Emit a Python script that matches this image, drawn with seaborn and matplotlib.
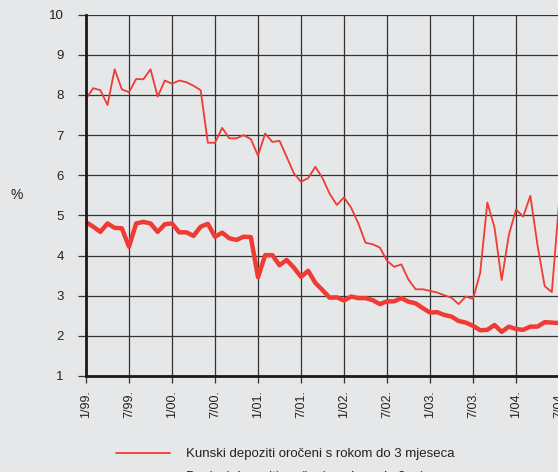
import numpy as np
import pandas as pd
import matplotlib
matplotlib.use("Agg")
import matplotlib.pyplot as plt
import seaborn as sns

# kamatne stope, mjesečno od 1/99.
kunski = [7.90, 8.17, 8.12, 7.75, 8.64, 8.14, 8.07, 8.40, 8.39, 8.64, 7.96, 8.36,
          8.28, 8.36, 8.32, 8.23, 8.12, 6.81, 6.81, 7.18, 6.92, 6.92, 7.00, 6.90,
          6.49, 7.04, 6.83, 6.86, 6.46, 6.05, 5.84, 5.93, 6.21, 5.93, 5.54, 5.26,
          5.45, 5.19, 4.80, 4.32, 4.28, 4.20, 3.87, 3.72, 3.78, 3.40, 3.16, 3.16,
          3.12, 3.08, 3.01, 2.95, 2.79, 2.98, 2.92, 3.57, 5.32, 4.70, 3.39, 4.51,
          5.15, 4.97, 5.49, 4.26, 3.24, 3.09, 5.30]
devizni = [4.83, 4.72, 4.59, 4.80, 4.69, 4.68, 4.22, 4.80, 4.84, 4.80, 4.59, 4.78,
           4.80, 4.58, 4.58, 4.49, 4.72, 4.79, 4.47, 4.57, 4.43, 4.39, 4.47, 4.46,
           3.46, 4.01, 4.01, 3.76, 3.89, 3.70, 3.47, 3.62, 3.32, 3.14, 2.95, 2.96,
           2.88, 2.98, 2.94, 2.94, 2.89, 2.79, 2.86, 2.86, 2.94, 2.85, 2.81, 2.69,
           2.58, 2.59, 2.52, 2.48, 2.37, 2.33, 2.25, 2.14, 2.15, 2.27, 2.10, 2.23,
           2.17, 2.15, 2.23, 2.23, 2.34, 2.33, 2.32]
tick_labels = ["1/99.", "7/99.", "1/00.", "7/00.", "1/01.", "7/01.", "1/02.",
               "7/02.", "1/03.", "7/03.", "1/04.", "7/04.", "1/05."]
label_kunski = "Kunski depoziti oročeni s rokom do 3 mjeseca"
label_devizni = "Devizni depoziti oročeni s rokom do 3 mjeseca"

bg = "#e6e7e9"
red = "#ef3b33"

sns.set_style("ticks")
plt.rcParams["font.family"] = ["Liberation Sans", "DejaVu Sans"]

df = pd.DataFrame({
    "mjesec": np.arange(len(kunski)),
    "kunski": kunski,
    "devizni": devizni,
})

W, H = 558, 472
fig = plt.figure(figsize=(W / 100, H / 100), dpi=100, facecolor=bg)
# os se nastavlja desno izvan slike (isječak)
px_month = 43 / 6
xmax = 72
ax = fig.add_axes([86 / W, 96 / H, xmax * px_month / W, 361.3 / H])
ax.set_facecolor(bg)

sns.lineplot(data=df, x="mjesec", y="kunski", ax=ax, color=red, lw=1.3,
             label=label_kunski)
sns.lineplot(data=df, x="mjesec", y="devizni", ax=ax, color=red, lw=3.2,
             label=label_devizni)

ax.set_xlim(0, xmax)
ax.set_ylim(1, 10)
ax.set_yticks(range(1, 11))
ax.set_xticks(range(0, 6 * len(tick_labels), 6))
ax.set_xticklabels(tick_labels, rotation=90, fontsize=9, color="#222222")
ax.tick_params(axis="y", labelsize=9.5, labelcolor="#222222", length=6,
               width=0.9, color="#333333", pad=10)
ax.tick_params(axis="x", length=5, width=0.9, color="#333333", pad=5)
ax.grid(True, color="#333333", lw=0.9)
ax.set_axisbelow(True)

for s in ["top", "right"]:
    ax.spines[s].set_visible(False)
for s in ["left", "bottom"]:
    ax.spines[s].set_color("#1a1a1a")
    ax.spines[s].set_linewidth(2)

ax.set_xlabel("")
ax.set_ylabel("%", rotation=0, fontsize=10, color="#222222", va="center")
ax.yaxis.set_label_coords(-69 / (xmax * px_month), 0.5)

ax.legend_.remove()
handles, labels = ax.get_legend_handles_labels()
fig.legend(handles, labels, loc="upper left",
           bbox_to_anchor=(116 / W, 1 - 448 / H), frameon=False,
           fontsize=9.5, handlelength=4.1, handletextpad=1.2,
           labelspacing=0.8, borderpad=0, borderaxespad=0,
           labelcolor="#222222")

fig.savefig("out.png", dpi=100, facecolor=bg)
